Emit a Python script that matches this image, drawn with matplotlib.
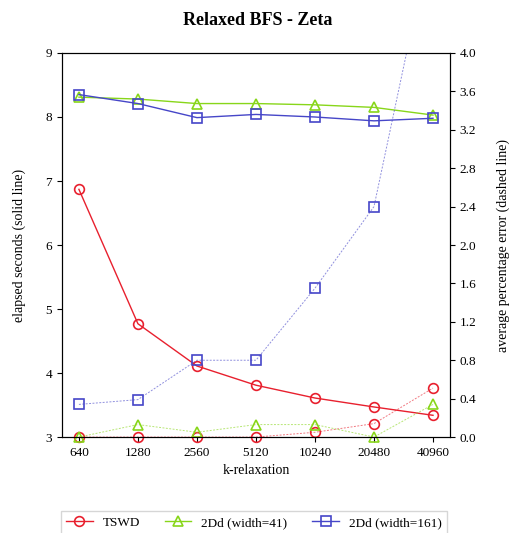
import matplotlib
matplotlib.use("Agg")
import matplotlib.pyplot as plt

k_labels = ["640", "1280", "2560", "5120", "10240", "20480", "40960"]

tswd_time = [6.87, 4.77, 4.11, 3.81, 3.61, 3.47, 3.34]
w41_time = [8.31, 8.28, 8.21, 8.21, 8.19, 8.15, 8.03]
w161_time = [8.35, 8.21, 7.99, 8.04, 8.00, 7.94, 7.98]

tswd_err = [0.0, 0.0, 0.0, 0.0, 0.05, 0.14, 0.51]
w41_err = [0.0, 0.13, 0.05, 0.13, 0.13, 0.0, 0.34]
w161_err = [0.34, 0.39, 0.80, 0.80, 1.55, 2.40, 5.30]

plt.rcParams["font.family"] = ["Liberation Serif", "DejaVu Serif"]

RED = "#e8202e"
GREEN = "#88d61a"
BLUE = "#4646c8"

fig = plt.figure(figsize=(5.15, 5.33), dpi=100)
ax = fig.add_axes([0.120, 0.180, 0.754, 0.7206])
ax2 = ax.twinx()

x = list(range(len(k_labels)))
series = [
    ("TSWD", tswd_time, tswd_err, RED, "o"),
    ("2Dd (width=41)", w41_time, w41_err, GREEN, "^"),
    ("2Dd (width=161)", w161_time, w161_err, BLUE, "s"),
]

for name, t, e, c, m in series:
    ax.plot(x, t, color=c, lw=1.0, marker=m, ms=7, mfc="none", mec=c,
            mew=1.2, label=name)
    ax2.plot(x, e, color=c, lw=0.7, ls=(0, (2, 1.5)), alpha=0.6)
    ax2.plot(x, e, ls="none", marker=m, ms=7, mfc="none", mec=c, mew=1.2,
             clip_on=False if max(e) < 4 else True)

ax.set_xlim(-0.29, 6.29)
ax.set_ylim(3, 9)
ax2.set_ylim(0, 4.0)
ax.set_xticks(x)
ax.set_xticklabels(k_labels)
ax2.set_yticks([i * 0.4 for i in range(11)])
ax2.set_yticklabels([f"{i * 0.4:.1f}" for i in range(11)])

for a in (ax, ax2):
    a.tick_params(labelsize=9.5)

ax.set_xlabel("k-relaxation", fontsize=10)
ax.set_ylabel("elapsed seconds (solid line)", fontsize=10, labelpad=14)
ax2.set_ylabel("average percentage error (dashed line)", fontsize=10,
               labelpad=14)
fig.suptitle("Relaxed BFS - Zeta", fontsize=13, fontweight="bold", y=0.978)

fig.legend(loc="center", bbox_to_anchor=(0.493, 0.019), ncol=3, fontsize=9.5,
           frameon=True, fancybox=False, edgecolor="#cccccc",
           handlelength=2.0, handletextpad=0.75, columnspacing=1.9)

fig.savefig("out.png", dpi=100)
